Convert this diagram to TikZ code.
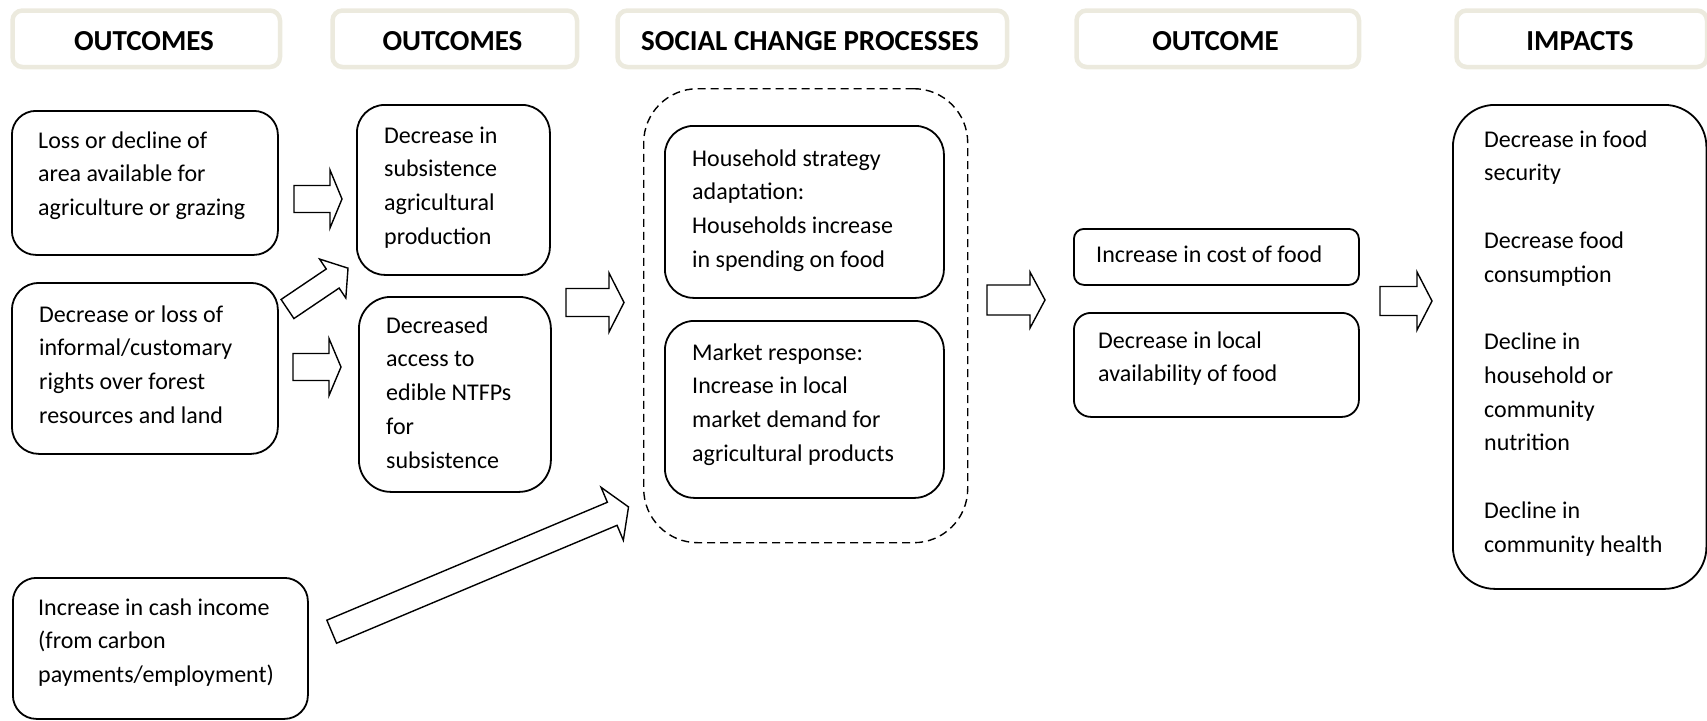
\documentclass[tikz,border=0pt]{standalone}
\usepackage{fontspec}
\setmainfont{Carlito}
\definecolor{hdrline}{RGB}{236,234,222}
\tikzset{
  box/.style={draw=black, line width=1.8pt, fill=white, inner sep=0pt, anchor=north west},
  hdr/.style={draw=hdrline, line width=4.5pt, fill=white, inner sep=0pt, anchor=north west},
  proc/.style={draw=black, line width=1.4pt, dash pattern=on 8pt off 5pt, inner sep=0pt, anchor=north west},
  txt/.style={anchor=base west, inner sep=0pt, font=\fontsize{24pt}{33.75pt}\selectfont},
  htxt/.style={anchor=base, inner sep=0pt, font=\bfseries\fontsize{29pt}{34pt}\selectfont},
  barrow/.style={draw=black, line width=1.4pt, fill=white, line join=miter},
}
% \rbox[style]{name}{x1}{y1}{x2}{y2}{radius}
\newcommand\rbox[7][box]{\node[#1, rounded corners=#7pt, minimum width={(#5)-(#3)}, minimum height={(#6)-(#4)}] (#2) at (#3,#4) {};}
% \blockarrow{x}{y}{angle}{length}{shaft half}{head half}{head depth}
\newcommand\blockarrow[7]{\draw[barrow, shift={(#1,#2)}, rotate=#3] (0,-#5) -- ({#4-#7},-#5) -- ({#4-#7},-#6) -- (#4,0) -- ({#4-#7},#6) -- ({#4-#7},#5) -- (0,#5) -- cycle;}
\newcommand\lines[1]{\parbox[t]{320pt}{\raggedright #1}}

\begin{document}
\begin{tikzpicture}[x=1pt,y=-1pt]
\useasboundingbox (0,0) rectangle (1707,720);

% headers
\rbox[hdr]{h1}{10.25}{8.25}{277.75}{64.75}{10}
\rbox[hdr]{h2}{330.25}{8.25}{574.75}{64.75}{10}
\rbox[hdr]{h3}{615.25}{8.25}{1004.75}{64.75}{10}
\rbox[hdr]{h4}{1074.25}{8.25}{1356.75}{64.75}{10}
\rbox[hdr]{h5}{1454.25}{8.25}{1704.75}{64.75}{10}
\node[htxt] (h1t) at (144,50) {OUTCOMES};
\node[htxt] (h2t) at (452.5,50) {OUTCOMES};
\node[htxt] (h3t) at (810,50) {SOCIAL CHANGE PROCESSES};
\node[htxt] (h4t) at (1215.5,50) {OUTCOME};
\node[htxt] (h5t) at (1580,50) {IMPACTS};

% dashed container
\rbox[proc]{proc}{643}{88}{967}{542}{54}

% boxes
\rbox{b1}{11}{110}{277}{254}{24}
\rbox{b2}{11}{282}{277}{453}{27}
\rbox{b3}{12}{577}{307}{718}{23.5}
\rbox{b4}{356}{104}{549}{274}{28}
\rbox{b5}{358}{296}{550}{491}{32}
\rbox{b6}{664}{125}{943}{297}{28.7}
\rbox{b7}{664}{320}{943}{497}{29.5}
\rbox{b8}{1073}{228}{1358}{284}{10}
\rbox{b9}{1073}{312}{1358}{416}{17}
\rbox{b10}{1452}{104}{1705.5}{588}{42}

% texts
\node[txt] (t1) at (38,148) {\lines{Loss or decline of\\area available for\\agriculture or grazing}};
\node[txt] (t2) at (39,322) {\lines{Decrease or loss of\\informal/customary\\rights over forest\\resources and land}};
\node[txt] (t3) at (38,615) {\lines{Increase in cash income\\(from carbon\\payments/employment)}};
\node[txt] (t4) at (384,143) {\lines{Decrease in\\subsistence\\agricultural\\production}};
\node[txt] (t5) at (386,333) {\lines{Decreased\\access to\\edible NTFPs\\for\\subsistence}};
\node[txt] (t6) at (692,166) {\lines{Household strategy\\adaptation:\\Households increase\\in spending on food}};
\node[txt] (t7) at (692,360) {\lines{Market response:\\Increase in local\\market demand for\\agricultural products}};
\node[txt] (t8) at (1096,262) {\lines{Increase in cost of food}};
\node[txt] (t9) at (1098,348) {\lines{Decrease in local\\availability of food}};
\node[txt] (t10) at (1484,147) {\lines{Decrease in food\\security\\[33.75pt]Decrease food\\consumption\\[33.75pt]Decline in\\household or\\community\\nutrition\\[33.75pt]Decline in\\community health}};

% block arrows
\blockarrow{294}{199}{0}{48}{13.5}{29}{12}
\blockarrow{293}{367}{0}{48}{13.5}{28.5}{12}
\blockarrow{287.5}{309}{34}{73}{11.5}{23.5}{18.5}
\blockarrow{566}{302.5}{0}{58}{14}{29.5}{15}
\blockarrow{331.7}{631.7}{22.8}{322}{12.5}{28.7}{17.7}
\blockarrow{987}{300}{0}{58}{15}{28}{15}
\blockarrow{1380}{301}{0}{52}{14.5}{29}{15}
\end{tikzpicture}
\end{document}
